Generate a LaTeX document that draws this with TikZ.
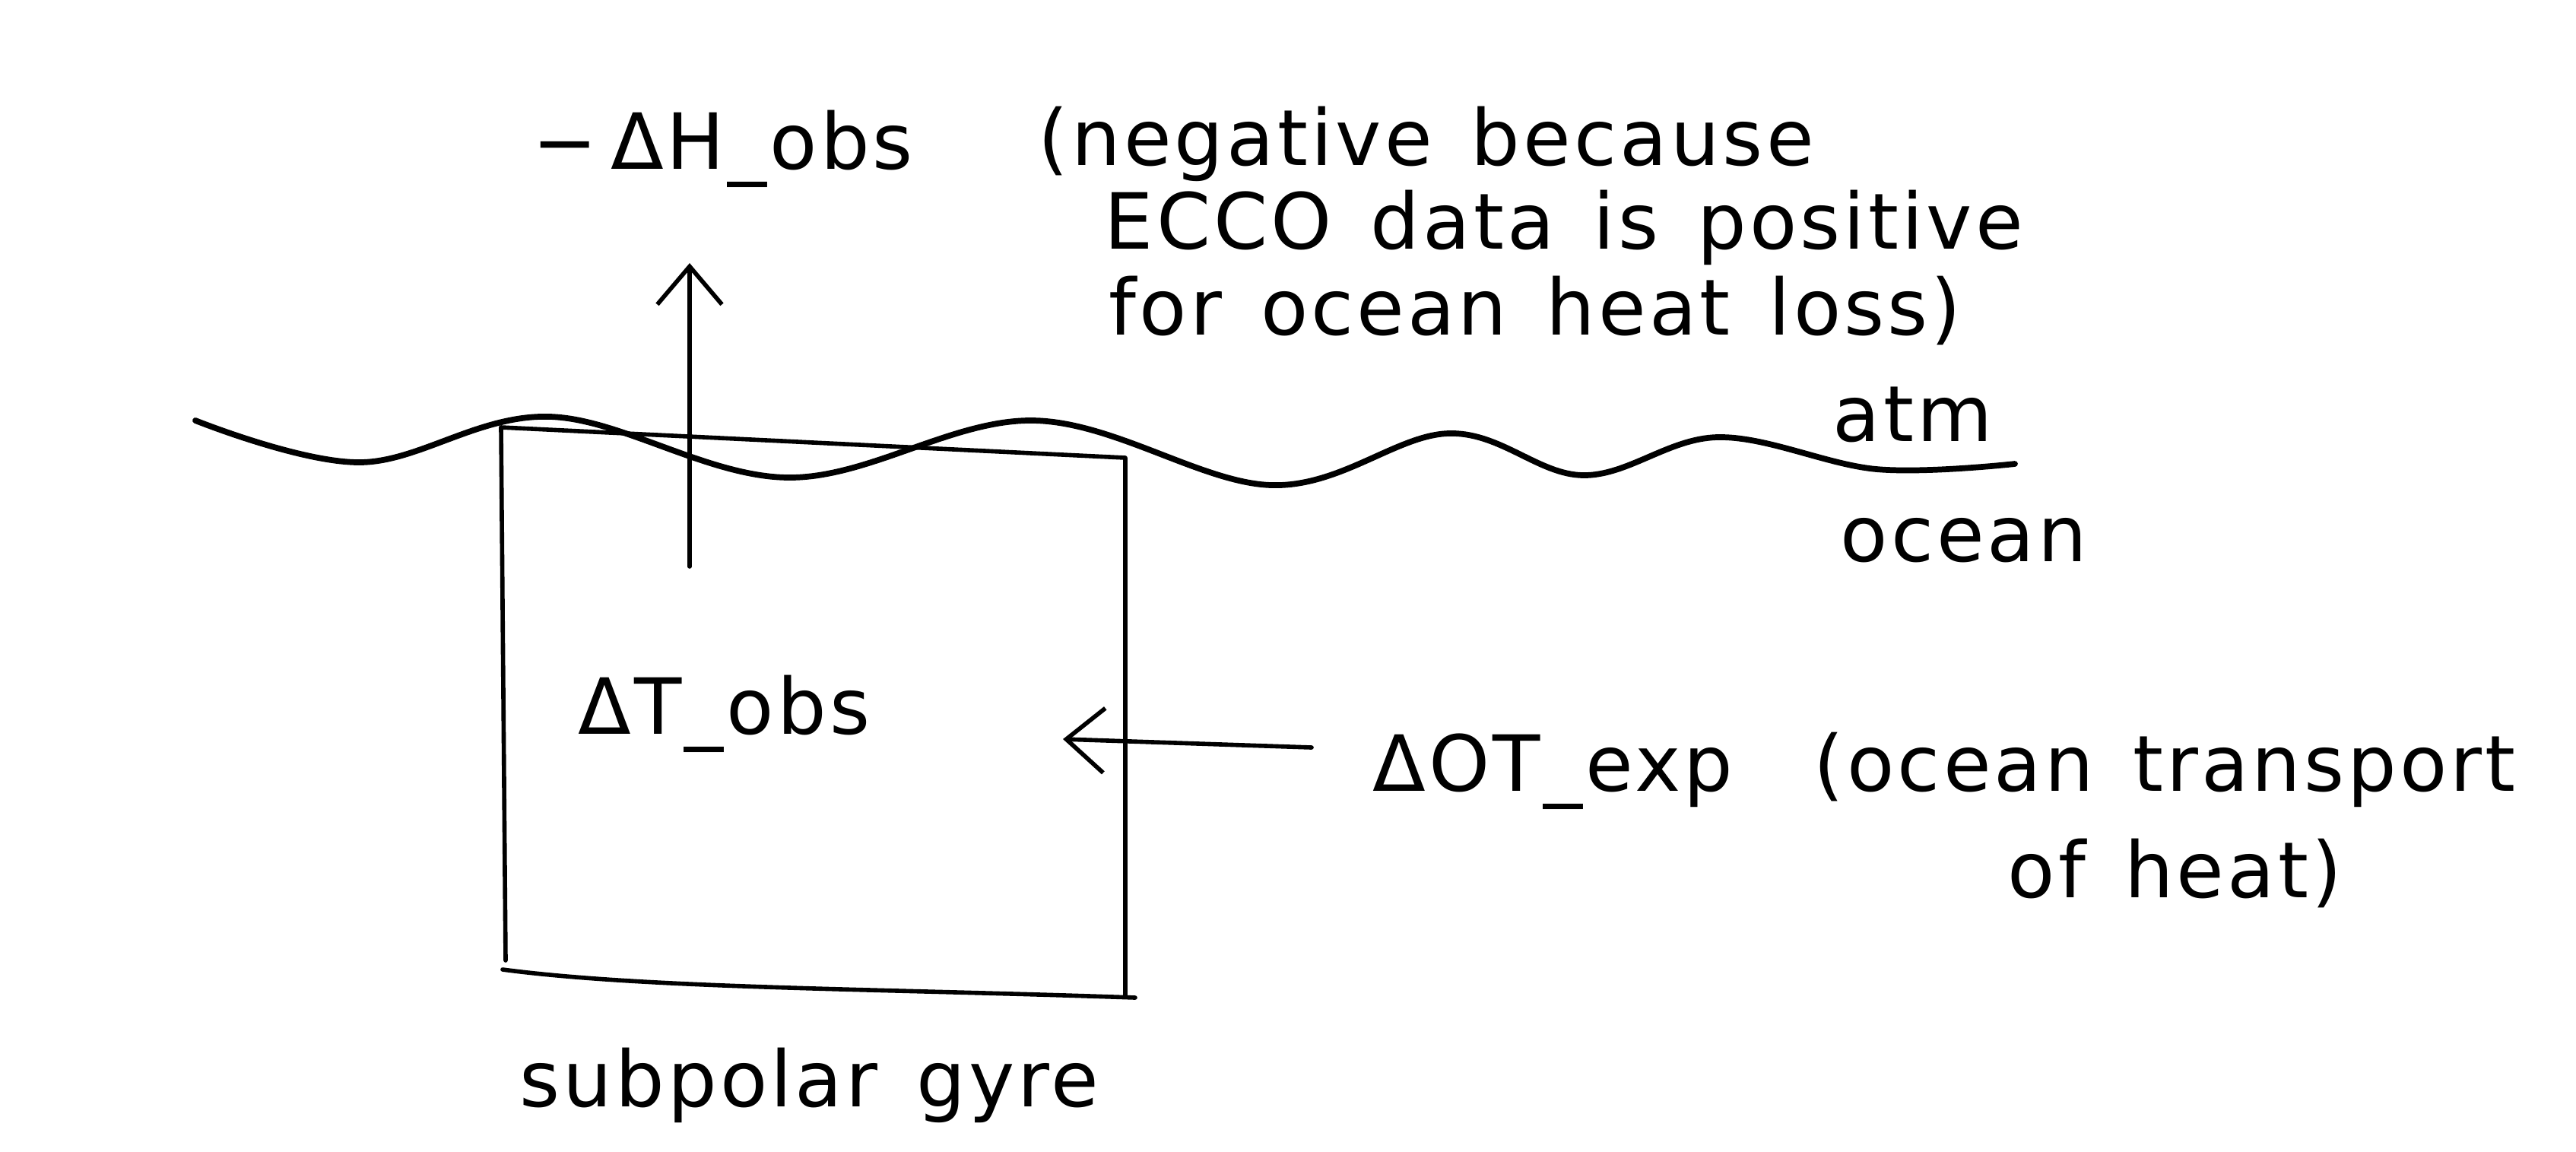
\documentclass[tikz,border=0pt]{standalone}
\usepackage{fontspec}
\setmainfont{DejaVu Sans}[LetterSpace=4, WordSpace=1.4]
\usetikzlibrary{arrows.meta}

\begin{document}
\begin{tikzpicture}[
    hand/.style={inner sep=0pt, anchor=base west, font=\fontsize{29}{35}\selectfont},
    pen/.style={line width=1.6pt, line cap=round, line join=round},
    heatflow/.style={pen, -{Straight Barb[length=5mm, width=8.5mm]}}
  ]
  \useasboundingbox (0,0) rectangle (33.88,-15.14);

  % sea surface
  \draw [line width=2.2pt, line cap=round] plot [smooth, tension=0.6] coordinates {
    (2.57,-5.53) (4.74,-6.08) (7.24,-5.48) (10.37,-6.28) (13.59,-5.53) (16.72,-6.38)
    (19.05,-5.70) (20.82,-6.25) (22.59,-5.75) (24.68,-6.17) (26.50,-6.10)};

  % gyre box
  \coordinate (nw) at (6.59,-5.62);
  \coordinate (ne) at (14.80,-6.02);
  \coordinate (se) at (14.80,-13.10);
  \coordinate (sw) at (6.65,-12.63);
  \draw [pen] (nw) -- (ne) -- (se);
  \draw [pen] (nw) -- (sw);
  \draw [pen] (6.61,-12.75) .. controls (8.5,-13.0) and (11.5,-13.0) .. (14.93,-13.12);

  % labels
  \node (hobs) [hand] at (7.00,-2.22) {−\,ΔH\_obs};
  \node (neg1) [hand] at (13.65,-2.17) {(negative because};
  \node (neg2) [hand] at (14.52,-3.27) {ECCO data is positive};
  \node (neg3) [hand] at (14.58,-4.40) {for ocean heat loss)};
  \node (atm) [hand] at (24.10,-5.80) {atm};
  \node (ocean) [hand] at (24.20,-7.38) {ocean};
  \node (tobs) [hand] at (7.60,-9.65) {ΔT\_obs};
  \node (otexp) [hand] at (18.05,-10.40) {ΔOT\_exp};
  \node (trans1) [hand] at (23.85,-10.40) {(ocean transport};
  \node (trans2) [hand] at (26.40,-11.80) {of heat)};
  \node (gyre) [hand] at (6.83,-14.55) {subpolar gyre};

  % fluxes
  \coordinate (fluxbase) at (9.07,-7.45);
  \coordinate (fluxtop) at (9.07,-3.46);
  \coordinate (transtail) at (17.25,-9.83);
  \coordinate (transtip) at (13.98,-9.72);
  \draw [heatflow] (fluxbase) -- (fluxtop);
  \draw [heatflow] (transtail) -- (transtip);
\end{tikzpicture}
\end{document}
